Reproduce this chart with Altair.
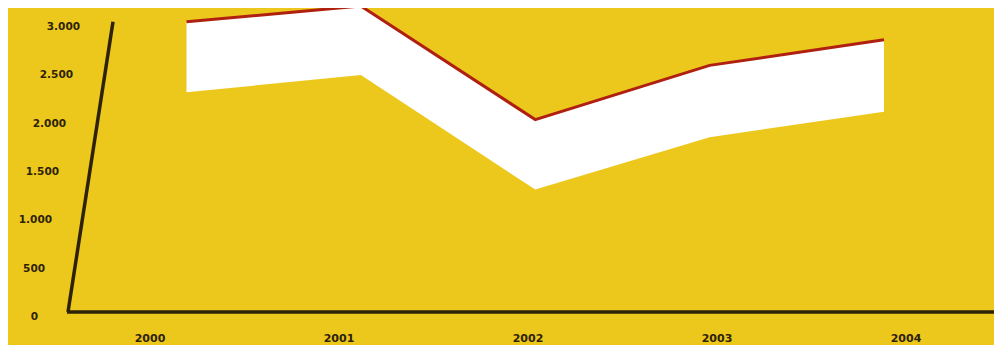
import altair as alt
import pandas as pd

# ---- data ----
years = [2000, 2001, 2002, 2003, 2004]
upper = [3130, 3300, 2075, 2660, 2935]
lower = [2370, 2555, 1320, 1885, 2160]
y_ticks = [0, 500, 1000, 1500, 2000, 2500, 3000]
y_tick_labels = ["0", "500", "1.000", "1.500", "2.000", "2.500", "3.000"]
x_tick_labels = ["2000", "2001", "2002", "2003", "2004"]
axis_top = 3130

# ---- styles ----
YELLOW = "#ECC81C"
RED = "#B02010"
DARK = "#2E2206"
FONT = "DejaVu Sans"

W, H = 986, 337

series = pd.DataFrame({"year": years, "upper": upper, "lower": lower})
ticks = pd.DataFrame({"v": y_ticks, "label": y_tick_labels})
xlabels = pd.DataFrame({"year": years, "label": x_tick_labels})
axis_df = pd.DataFrame({"v0": [0], "v1": [axis_top]})

x_data = alt.Scale(domain=[2000, 2004], range=[178.5, 876], nice=False, zero=False)
y_data = alt.Scale(domain=[0, 3300], range=[304, -2], nice=False, zero=False)

band = alt.Chart(series).mark_area(color="white", opacity=1).encode(
    x=alt.X("year:Q", scale=x_data, axis=None),
    y=alt.Y("upper:Q", scale=y_data, axis=None),
    y2="lower:Q",
)

line = alt.Chart(series).mark_line(color=RED, strokeWidth=3).encode(
    x=alt.X("year:Q", scale=x_data, axis=None),
    y=alt.Y("upper:Q", scale=y_data, axis=None),
)

y_axis_line = alt.Chart(axis_df).mark_rule(color=DARK, strokeWidth=3.5).encode(
    x=alt.X("v0:Q", scale=alt.Scale(domain=[0, axis_top], range=[60, 105], nice=False, zero=False), axis=None),
    x2="v1:Q",
    y=alt.Y("v0:Q", scale=y_data, axis=None),
    y2="v1:Q",
)

x_axis_line = alt.Chart(axis_df).mark_rule(color=DARK, strokeWidth=3.5).encode(
    y=alt.Y("v0:Q", scale=y_data, axis=None),
    x=alt.value(59),
    x2=alt.value(W),
)

y_labels = alt.Chart(ticks).mark_text(
    align="right", baseline="middle", font=FONT, fontWeight="bold", fontSize=10.5, color=DARK
).encode(
    x=alt.X("v:Q", scale=alt.Scale(domain=[0, 3000], range=[30, 72], nice=False, zero=False), axis=None),
    y=alt.Y("v:Q", scale=alt.Scale(domain=[0, 3000], range=[309.4, 18.6], nice=False, zero=False), axis=None),
    text="label:N",
)

x_labels = alt.Chart(xlabels).mark_text(
    align="center", baseline="middle", font=FONT, fontWeight="bold", fontSize=11, color=DARK
).encode(
    x=alt.X("year:Q", scale=alt.Scale(domain=[2000, 2004], range=[142, 898], nice=False, zero=False), axis=None),
    y=alt.value(331),
    text="label:N",
)

chart = (
    alt.layer(band, line, y_axis_line, x_axis_line, y_labels, x_labels)
    .resolve_scale(x="independent", y="independent")
    .properties(width=W, height=H, padding=0, autosize="none", background=YELLOW)
    .configure_view(strokeWidth=0)
)

chart.save("out.html", embed_options={"renderer": "svg", "actions": False})
